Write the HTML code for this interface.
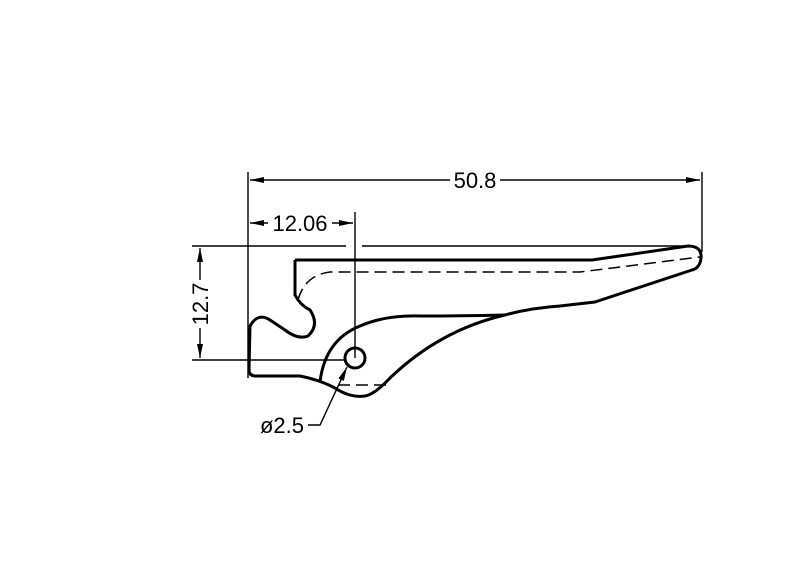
<!DOCTYPE html>
<html><head><style>body{margin:0;background:#fff}svg{display:block}</style></head><body>
<svg width="800" height="576" viewBox="0 0 800 576" xmlns="http://www.w3.org/2000/svg" font-family="Liberation Sans, sans-serif">
<rect width="800" height="576" fill="#fff"/>
<defs><marker id="a" markerWidth="14" markerHeight="6" refX="14" refY="3" orient="auto-start-reverse" markerUnits="userSpaceOnUse"><path d="M0,0 L14,3 L0,6 Z" fill="#000"/></marker></defs>
<g stroke="#000" stroke-width="1.4" fill="none">
<line x1="248" y1="172" x2="248" y2="378"/>
<line x1="702" y1="172" x2="702" y2="252"/>
<line x1="250" y1="180" x2="450" y2="180" marker-start="url(#a)"/>
<line x1="500" y1="180" x2="700" y2="180" marker-end="url(#a)"/>
<line x1="355" y1="212" x2="355" y2="358"/>
<line x1="250" y1="223" x2="268" y2="223" marker-start="url(#a)"/>
<line x1="332" y1="223" x2="353" y2="223" marker-end="url(#a)"/>
<line x1="192" y1="246" x2="346" y2="246"/>
<line x1="362" y1="246" x2="690" y2="246"/>
<line x1="192" y1="360" x2="346" y2="360"/>
<line x1="200" y1="248" x2="200" y2="280" marker-start="url(#a)"/>
<line x1="200" y1="328" x2="200" y2="358" marker-end="url(#a)"/>
<polyline points="308,425 320,425 347,367" marker-end="url(#a)"/>
</g>
<g stroke="#000" stroke-width="3" fill="none" stroke-linejoin="round">
<path d="M295,260 L592,260 L688,246 Q702,246 701,258 Q700,268 692,270 L595,302 L560,306 Q530,308 505,315"/>
<path d="M295,260 L295,295 Q300,305 310,310 Q320,325 308,336 Q298,340 285,330 L270,320 Q258,312 250,326 L249,370 Q249,376 256,376 L300,376 Q320,380 335,388 Q350,398 365,396 Q375,394 390,378 Q440,330 505,315"/>
<path d="M320,382 Q325,340 360,326 Q385,315 420,316 Q460,316 505,315"/>
<circle cx="355" cy="358" r="10"/>
</g>
<g stroke="#000" stroke-width="1.5" fill="none" stroke-dasharray="12,6">
<path d="M298,300 Q305,275 330,272 L580,272 L700,257"/>
<line x1="338" y1="385" x2="388" y2="385"/>
</g>
<g font-size="22" fill="#000">
<text x="475" y="188" text-anchor="middle">50.8</text>
<text x="300" y="231" text-anchor="middle">12.06</text>
<text x="282" y="433" text-anchor="middle">ø2.5</text>
<text transform="translate(208,304) rotate(-90)" text-anchor="middle">12.7</text>
</g>
</svg>
</body></html>
